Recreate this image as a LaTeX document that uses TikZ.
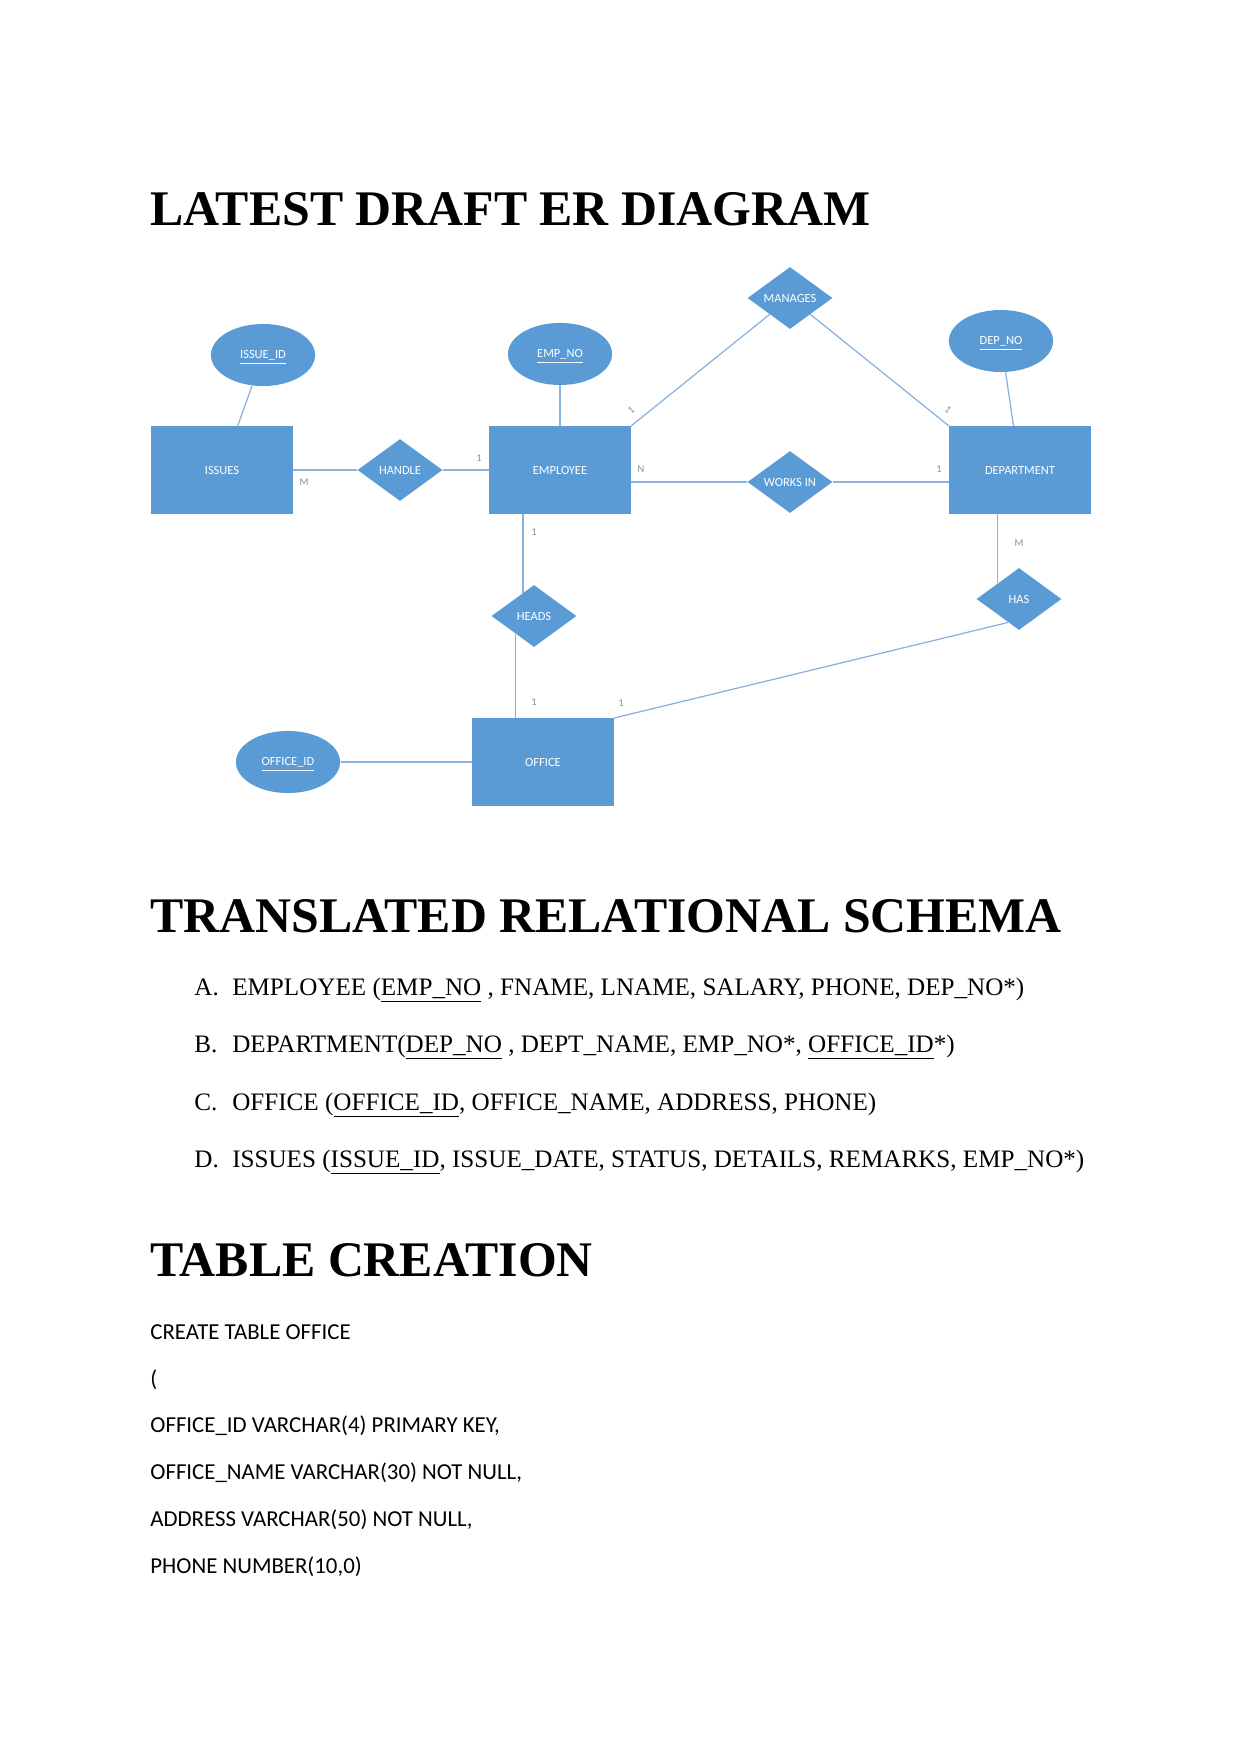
\documentclass[tikz,border=0pt]{standalone}
\usepackage{fontspec}
\setmainfont{Liberation Serif}
\newfontfamily\calibri{Carlito}
\usetikzlibrary{shapes.geometric,positioning}
\definecolor{erblue}{HTML}{5B9BD5}
\definecolor{linkblue}{HTML}{8AB2DE}
\definecolor{cardgray}{HTML}{7C93AC}

\begin{document}
\begin{tikzpicture}[x=0.48bp,y=-0.48bp,every node/.style={inner sep=0pt},
  entity/.style={fill=erblue,text=white,minimum width=67.7bp,minimum height=41.8bp,font=\calibri\fontsize{6}{7}\selectfont},
  attrib/.style={ellipse,fill=erblue,text=white,minimum width=50bp,minimum height=29.8bp,text height=4.2pt,text depth=0.6pt,font=\calibri\fontsize{6}{7}\selectfont},
  relation/.style={diamond,aspect=1.37,fill=erblue,text=white,minimum width=40.8bp,minimum height=29.8bp,font=\calibri\fontsize{6}{7}\selectfont},
  card/.style={text=cardgray,font=\calibri\fontsize{5}{6}\selectfont},
  link/.style={draw=linkblue,line width=0.6pt},
  heading/.style={anchor=base west,font=\bfseries\fontsize{24}{28}\selectfont},
  schema/.style={anchor=base west,font=\fontsize{12.1}{14}\selectfont},
  sql/.style={anchor=base west,font=\calibri\fontsize{11}{13}\selectfont}]
\fill[white] (0,0) rectangle (1241,1754);
\useasboundingbox (0,0) rectangle (1241,1754);

\node[heading] (title) at (150,225) {LATEST DRAFT ER DIAGRAM};

% entities
\node[entity] (issues) at (222,470) {ISSUES};
\node[entity] (employee) at (560,470) {EMPLOYEE};
\node[entity] (department) at (1020,470) {DEPARTMENT};
\node[entity] (office) at (543,762) {OFFICE};

% attributes
\node[attrib] (issueid) at (263,355) {\underline{ISSUE\_ID}};
\node[attrib,above=19.5bp of employee] (empno) {\underline{EMP\_NO}};
\node[attrib] (depno) at (1001,341) {\underline{DEP\_NO}};
\node[attrib] (officeid) at (288,762) {\underline{OFFICE\_ID}};

% relationships
\node[relation] (handle) at (400,470) {HANDLE};
\node[relation] (manages) at (790,298) {MANAGES};
\node[relation] (worksin) at (790,482) {WORKS IN};
\node[relation] (heads) at (534,616) {HEADS};
\node[relation] (has) at (1019,599) {HAS};

\draw[link] (issueid) -- (issues);
\draw[link] (empno) -- (employee);
\draw[link] (depno) -- (department);
\draw[link] (officeid) -- (office);
\draw[link] (issues) -- (handle);
\draw[link] (handle) -- (employee);
\draw[link] (manages) -- (employee.north east);
\draw[link] (manages) -- (department.north west);
\draw[link] (worksin.west) -- (worksin.west -| employee.east);
\draw[link] (worksin.east) -- (worksin.east -| department.west);
\draw[link] (heads.115) -- (heads.115 |- employee.south);
\draw[link] (heads.225) -- (heads.225 |- office.north);
\draw[link] (has.143) -- (has.143 |- department.south);
\draw[link] (has.245) -- (office.north east);

% cardinalities
\node[card] (mIssues) at (304,482) {M};
\node[card] (oneEmpHandle) at (479,458) {1};
\node[card,rotate=40] (oneEmpManages) at (631,410) {1};
\node[card,rotate=-40] (oneDepManages) at (948,410) {1};
\node[card] (nEmpWorks) at (641,469) {N};
\node[card] (oneDepWorks) at (939,469) {1};
\node[card] (oneEmpHeads) at (534,532) {1};
\node[card] (oneOffHeads) at (534,702) {1};
\node[card] (oneOffHas) at (621,703) {1};
\node[card] (mDepHas) at (1019,543) {M};

\node[heading] (schemahead) at (150,932) {TRANSLATED RELATIONAL SCHEMA};
\node[schema] (itemA) at (194,995) {\makebox[18.2bp][l]{A.}EMPLOYEE (\underline{EMP\_NO} , FNAME, LNAME, SALARY, PHONE, DEP\_NO*)};
\node[schema] (itemB) at (194,1052) {\makebox[18.2bp][l]{B.}DEPARTMENT(\underline{DEP\_NO} , DEPT\_NAME, EMP\_NO*, \underline{OFFICE\_ID}*)};
\node[schema] (itemC) at (194,1110) {\makebox[18.2bp][l]{C.}OFFICE (\underline{OFFICE\_ID}, OFFICE\_NAME, ADDRESS, PHONE)};
\node[schema] (itemD) at (194,1167) {\makebox[18.2bp][l]{D.}ISSUES (\underline{ISSUE\_ID}, ISSUE\_DATE, STATUS, DETAILS, REMARKS, EMP\_NO*)};

\node[heading] (tablehead) at (150,1276) {TABLE CREATION};
\node[sql] (sqlA) at (150,1339) {CREATE TABLE OFFICE};
\node[sql] (sqlB) at (150,1386) {(};
\node[sql] (sqlC) at (150,1432) {OFFICE\_ID VARCHAR(4) PRIMARY KEY,};
\node[sql] (sqlD) at (150,1479) {OFFICE\_NAME VARCHAR(30) NOT NULL,};
\node[sql] (sqlE) at (150,1526) {ADDRESS VARCHAR(50) NOT NULL,};
\node[sql] (sqlF) at (150,1573) {PHONE NUMBER(10,0)};
\end{tikzpicture}
\end{document}
